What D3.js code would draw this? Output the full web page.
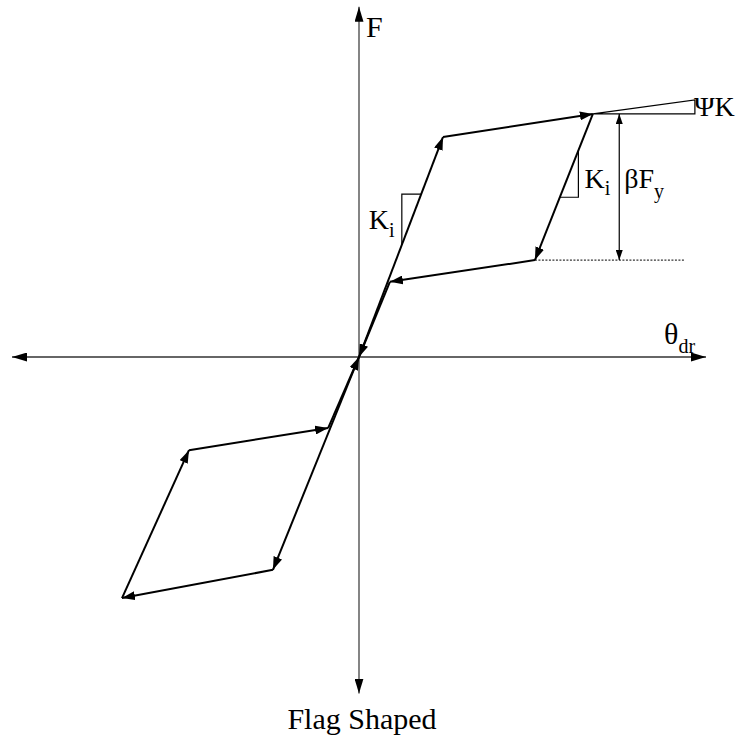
<!DOCTYPE html>
<html><head><meta charset="utf-8">
<script src="https://cdn.jsdelivr.net/npm/d3@7"></script>
<style>body{margin:0;background:#fff}svg{display:block}text{font-family:"Liberation Serif","DejaVu Serif",serif;fill:#000}</style>
</head><body><svg id="c" width="738" height="740"></svg>
<script>
// Upper (positive) flag loop, traversed in order from the origin
const upperTheta = [0, 2.42, 6.74, 5.07, 0.89, 0];
const upperF     = [0, 6.47, 7.15, 2.85, 2.21, 0];
// Lower (negative) flag loop
const lowerTheta = [0, -2.48, -6.83, -4.90, -0.89, 0];
const lowerF     = [0, -6.26, -7.09, -2.74, -2.09, 0];
// Annotation geometry (data units)
const psiK = {theta0: 6.74, theta1: 9.68, F0: 7.15, F1: 7.56};
const betaFy = {theta: 7.5, Ftop: 7.15, Fbot: 2.85, dashEnd: 9.39};
const labels = ["F", "θ", "dr", "Flag Shaped", "ΨK", "βF", "y", "K", "i"];

const svg = d3.select("#c");
const x = d3.scaleLinear().domain([-10, 10]).range([12, 706]);
const y = d3.scaleLinear().domain([-10, 10]).range([697, 17]);

const defs = svg.append("defs");
function marker(id, len, w){
  defs.append("marker").attr("id", id).attr("viewBox", `0 -${w} ${len} ${2*w}`)
    .attr("refX", len).attr("refY", 0).attr("markerWidth", len).attr("markerHeight", 2*w)
    .attr("markerUnits", "userSpaceOnUse").attr("orient", "auto-start-reverse")
    .append("path").attr("d", `M0,-${w}L${len},0L0,${w}Z`).attr("fill", "#000");
}
marker("ah", 13, 4.5);
marker("ax", 15, 4.5);
marker("as", 10, 3.5);

// Axes
svg.append("line").attr("x1", x(-10)).attr("x2", x(10)).attr("y1", y(0)).attr("y2", y(0))
  .attr("stroke", "#333").attr("stroke-width", 1.6)
  .attr("marker-start", "url(#ax)").attr("marker-end", "url(#ax)");
svg.append("line").attr("x1", x(0)).attr("x2", x(0)).attr("y1", y(10.3)).attr("y2", y(-9.9))
  .attr("stroke", "#333").attr("stroke-width", 1.2)
  .attr("marker-start", "url(#ax)").attr("marker-end", "url(#ax)");

// Loops: each segment drawn with an arrowhead at its end
function drawLoop(th, F){
  for (let i = 0; i < th.length - 1; i++){
    svg.append("line")
      .attr("x1", x(th[i])).attr("y1", y(F[i]))
      .attr("x2", x(th[i+1])).attr("y2", y(F[i+1]))
      .attr("stroke", "#000").attr("stroke-width", 2)
      .attr("marker-end", "url(#ah)");
  }
}
drawLoop(upperTheta, upperF);
drawLoop(lowerTheta, lowerF);

// ΨK extension line and triangle
svg.append("path").attr("fill", "none").attr("stroke", "#000").attr("stroke-width", 1.2)
  .attr("d", `M${x(psiK.theta0)},${y(psiK.F0)}L${x(psiK.theta1)},${y(psiK.F1)}L${x(psiK.theta1)},${y(psiK.F0)}Z`);
svg.append("text").attr("x", x(psiK.theta1) - 1).attr("y", y(psiK.F0) + 2).attr("font-size", 28).text(labels[4]);

// βFy dimension
svg.append("line").attr("x1", x(betaFy.theta)).attr("x2", x(betaFy.theta))
  .attr("y1", y(betaFy.Ftop)).attr("y2", y(betaFy.Fbot))
  .attr("stroke", "#000").attr("stroke-width", 1.2)
  .attr("marker-start", "url(#as)").attr("marker-end", "url(#as)");
svg.append("line").attr("x1", x(upperTheta[3])).attr("x2", x(betaFy.dashEnd))
  .attr("y1", y(betaFy.Fbot)).attr("y2", y(betaFy.Fbot))
  .attr("stroke", "#000").attr("stroke-width", 1).attr("stroke-dasharray", "2,1.5");
const bt = svg.append("text").attr("x", x(betaFy.theta) + 5).attr("y", 188).attr("font-size", 28);
bt.append("tspan").text(labels[5]);
bt.append("tspan").attr("font-size", 20).attr("dy", 10).text(labels[6]);

// Ki slope triangles (on the loop lines)
function kTri(thA, FA, thB, FB, fracTop, fracBot, side){
  const p = t => [x(thA + (thB - thA) * t), y(FA + (FB - FA) * t)];
  const top = p(fracTop), bot = p(fracBot);
  let d;
  if (side === "left") d = `M${top[0]},${top[1]}L${bot[0]},${top[1]}L${bot[0]},${bot[1]}`;
  else d = `M${top[0]},${top[1]}L${top[0]},${bot[1]}L${bot[0]},${bot[1]}`;
  svg.append("path").attr("d", d).attr("fill", "none").attr("stroke", "#000").attr("stroke-width", 1.2);
  return {top, bot};
}
const k1 = kTri(upperTheta[0], upperF[0], upperTheta[1], upperF[1], 0.74, 0.51, "left");
const t1 = svg.append("text").attr("x", k1.bot[0] - 33).attr("y", 229).attr("font-size", 28);
t1.append("tspan").text(labels[7]);
t1.append("tspan").attr("font-size", 20).attr("dy", 8).text(labels[8]);
const k2 = kTri(upperTheta[2], upperF[2], upperTheta[3], upperF[3], 0.25, 0.57, "right");
const t2 = svg.append("text").attr("x", k2.top[0] + 6).attr("y", 188).attr("font-size", 28);
t2.append("tspan").text(labels[7]);
t2.append("tspan").attr("font-size", 20).attr("dy", 7).text(labels[8]);

// Axis labels
svg.append("text").attr("x", x(0) + 7).attr("y", 37).attr("font-size", 30).text(labels[0]);
const tl = svg.append("text").attr("x", 664).attr("y", 344).attr("font-size", 30);
tl.append("tspan").text(labels[1]);
tl.append("tspan").attr("font-size", 20).attr("dy", 9).text(labels[2]);
svg.append("text").attr("x", x(0) + 3).attr("y", 729).attr("text-anchor", "middle").attr("font-size", 30).text(labels[3]);
</script></body></html>
